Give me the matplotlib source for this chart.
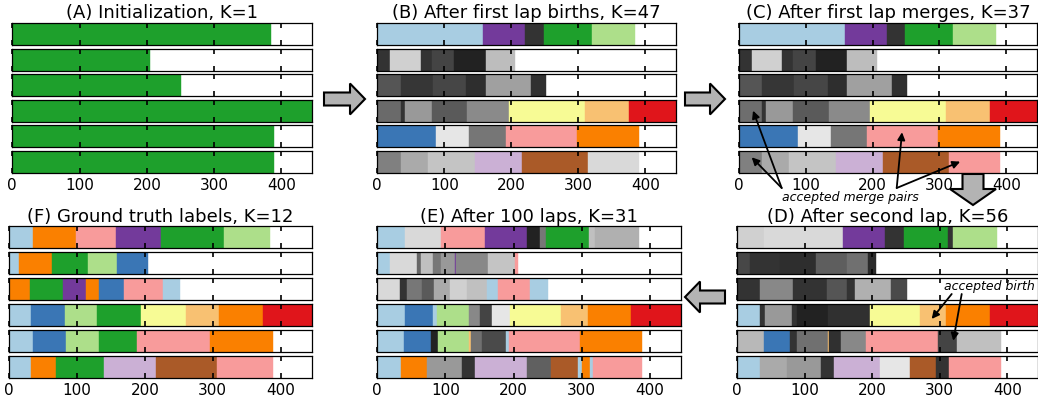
import matplotlib
matplotlib.use('Agg')
from matplotlib import pyplot as plt
from matplotlib.patches import FancyArrow
from matplotlib.text import Annotation

# colours (Paired-like)
lb = '#a8cde2'
blue = '#3a76b5'
lgreen = '#addf8a'
green = '#1ea02c'
pink = '#f89b9b'
red = '#e0151b'
lorange = '#f8c172'
orange = '#fa8000'
lpurple = '#cbb0d5'
purple = '#733a9b'
yellow = '#f7fb95'
brown = '#aa5a28'

# each row: list of (segment end, colour), segments start where the previous ends
panel_A = [
    [(384, green)],
    [(205, green)],
    [(251, green)],
    [(446, green)],
    [(389, green)],
    [(389, green)],
]

panel_B = [
    [(158, lb), (221, purple), (248, '#333333'), (320, green), (385, lgreen)],
    [(19, '#333333'), (65, '#d0d0d0'), (81, '#333333'), (115, '#444444'), (162, '#222222'), (206, '#bdbdbd')],
    [(35, '#555555'), (83, '#363636'), (133, '#464646'), (162, '#2e2e2e'), (229, '#a0a0a0'), (252, '#303030')],
    [(35, '#6a6a6a'), (41, '#333333'), (81, '#999999'), (134, '#5a5a5a'), (196, '#8a8a8a'), (310, yellow),
     (376, lorange), (446, red)],
    [(88, blue), (137, '#e6e6e6'), (192, '#767676'), (298, pink), (390, orange)],
    [(35, '#808080'), (75, '#aaaaaa'), (145, '#c4c4c4'), (216, lpurple), (314, brown), (390, '#d9d9d9')],
]

panel_C = [
    [(158, lb), (221, purple), (248, '#333333'), (320, green), (385, lgreen)],
    [(19, '#333333'), (65, '#d0d0d0'), (81, '#333333'), (115, '#444444'), (162, '#222222'), (206, '#bdbdbd')],
    [(35, '#555555'), (83, '#363636'), (133, '#464646'), (162, '#2e2e2e'), (229, '#a0a0a0'), (252, '#303030')],
    [(35, '#6e6e6e'), (41, '#333333'), (81, '#999999'), (134, '#5a5a5a'), (196, '#8a8a8a'), (310, yellow),
     (376, lorange), (446, red)],
    [(88, blue), (137, '#e6e6e6'), (192, '#767676'), (298, pink), (390, orange)],
    [(35, '#808080'), (75, '#aaaaaa'), (145, '#c4c4c4'), (216, lpurple), (314, brown), (391, pink)],
]

panel_D = [
    [(39, '#d0d0d0'), (157, '#d9d9d9'), (219, purple), (247, '#333333'), (312, green), (320, '#333333'),
     (385, lgreen)],
    [(19, '#474747'), (63, '#333333'), (116, '#2e2e2e'), (162, '#5e5e5e'), (194, '#707070'), (206, '#2a2a2a')],
    [(34, '#333333'), (83, '#888888'), (133, '#333333'), (162, '#555555'), (174, '#333333'), (228, '#b0b0b0'),
     (251, '#4a4a4a')],
    [(34, lb), (41, '#333333'), (81, '#999999'), (88, '#333333'), (134, '#222222'), (196, '#303030'),
     (270, yellow), (309, lorange), (375, orange), (446, red)],
    [(39, '#b8b8b8'), (78, blue), (88, '#333333'), (135, '#707070'), (136, lorange), (154, '#303030'),
     (191, '#888888'), (298, pink), (325, '#444444'), (390, '#c0c0c0')],
    [(34, lb), (74, '#aaaaaa'), (124, '#999999'), (144, '#333333'), (212, lpurple), (256, '#e6e6e6'),
     (295, brown), (313, '#333333'), (390, pink)],
]

panel_E = [
    [(40, lb), (93, '#d9d9d9'), (158, pink), (220, purple), (238, '#222222'), (248, '#777777'), (311, green),
     (320, '#c0c0c0'), (384, '#b0b0b0')],
    [(19, lb), (58, '#d9d9d9'), (64, '#666666'), (81, '#c0c0c0'), (93, '#777777'), (114, '#999999'),
     (116, purple), (162, '#888888'), (202, '#c4c4c4'), (206, pink)],
    [(34, '#d9d9d9'), (44, '#333333'), (66, '#777777'), (83, '#5a5a5a'), (107, '#aaaaaa'), (132, '#d0d0d0'),
     (161, '#c0c0c0'), (177, lb), (224, pink), (251, lb)],
    [(40, lb), (81, blue), (88, lb), (134, lgreen), (151, '#888888'), (168, '#444444'), (195, '#e6e6e6'),
     (269, yellow), (309, lorange), (372, orange), (446, red)],
    [(39, lb), (79, blue), (89, '#222222'), (135, lgreen), (137, lorange), (154, '#707070'), (189, '#4a4a4a'),
     (193, lb), (298, pink), (389, orange)],
    [(35, lb), (73, orange), (124, '#999999'), (144, '#333333'), (219, lpurple), (255, '#606060'),
     (295, brown), (300, lb), (312, orange), (317, lb), (389, pink)],
]

panel_F = [
    [(36, lb), (98, orange), (157, pink), (223, purple), (317, green), (384, lgreen)],
    [(15, lb), (64, orange), (116, green), (159, lgreen), (205, blue)],
    [(31, orange), (80, green), (113, purple), (132, orange), (169, blue), (226, pink), (251, lb)],
    [(33, lb), (83, blue), (130, lgreen), (195, green), (261, yellow), (309, lorange), (374, orange), (446, red)],
    [(35, lb), (84, blue), (132, lgreen), (188, green), (296, pink), (389, orange)],
    [(33, lb), (69, orange), (140, green), (216, lpurple), (306, brown), (389, pink)],
]

titles = {
    'A': '(A) Initialization, K=1',
    'B': '(B) After first lap births, K=47',
    'C': '(C) After first lap merges, K=37',
    'D': '(D) After second lap, K=56',
    'E': '(E) After 100 laps, K=31',
    'F': '(F) Ground truth labels, K=12',
}
ticks = [0, 100, 200, 300, 400]
xmax = 446

W, H = 1038, 402
fig = plt.figure(figsize=(W / 100, H / 100), dpi=100)

# layout in pixels: left, top, width, row pitch
layout = {
    'A': (12.3, 24.3, 300, 25.5),
    'B': (377.3, 24.3, 299, 25.5),
    'C': (739, 24.3, 298, 25.5),
    'F': (9, 227.3, 303, 25.9),
    'E': (377.3, 227.3, 304, 25.9),
    'D': (737.3, 227.3, 301, 25.9),
}
row_h = 21.7
data = {'A': panel_A, 'B': panel_B, 'C': panel_C, 'D': panel_D, 'E': panel_E, 'F': panel_F}

axes = {}
for name, rows in data.items():
    left, top, width, pitch = layout[name]
    axes[name] = []
    for i, segs in enumerate(rows):
        t = top + i * pitch
        ax = fig.add_axes([left / W, 1 - (t + row_h) / H, width / W, row_h / H])
        start = 0
        for end, col in segs:
            ax.barh(0, end - start, left=start, height=1, color=col, edgecolor=col, linewidth=0.3)
            start = end
        ax.set_xlim(0, xmax)
        ax.set_ylim(-0.5, 0.5)
        ax.set_yticks([])
        ax.set_xticks(ticks)
        ax.tick_params(axis='x', direction='in', top=True, bottom=True, length=3.5, width=1.2,
                       labelsize=11, pad=3.5, labelbottom=(i == len(rows) - 1))
        for sp in ax.spines.values():
            sp.set_linewidth(0.9)
        axes[name].append(ax)
    title_y = 13 if top < 100 else 217.5
    fig.text((left + width / 2) / W, 1 - title_y / H, titles[name], ha='center', va='center', fontsize=13)

# block arrows between panels (inches from bottom left)
arrow_kw = dict(length_includes_head=True, fc='#b3b3b3', ec='black', lw=1.5,
                transform=fig.dpi_scale_trans, zorder=5)
fig.add_artist(FancyArrow(3.24, 3.02, 0.41, 0, width=0.13, head_width=0.31, head_length=0.15, **arrow_kw))
fig.add_artist(FancyArrow(6.85, 3.02, 0.40, 0, width=0.13, head_width=0.31, head_length=0.15, **arrow_kw))
fig.add_artist(FancyArrow(9.73, 2.27, 0, -0.31, width=0.21, head_width=0.46, head_length=0.16, **arrow_kw))
fig.add_artist(FancyArrow(7.25, 1.04, -0.40, 0, width=0.13, head_width=0.31, head_length=0.15, **arrow_kw))

# annotations
fig.text(850 / W, 1 - 198 / H, 'accepted merge pairs', ha='center', va='center', fontsize=9, style='italic')
fig.text(989 / W, 1 - 286.7 / H, 'accepted birth', ha='center', va='center', fontsize=9, style='italic')

arrowprops = dict(arrowstyle='-|>', color='black', lw=1.3, mutation_scale=11, shrinkA=0, shrinkB=0)
pointers = [
    ((781.7, 189), axes['C'][3], (21, 0.0)),
    ((781.7, 189), axes['C'][5], (19, 0.2)),
    ((896.7, 189), axes['C'][4], (244, 0.18)),
    ((896.7, 189), axes['C'][5], (331, 0.0)),
    ((951.7, 295), axes['D'][3], (288, -0.19)),
    ((961.7, 295), axes['D'][4], (320, 0.0)),
]
for (px, py), ax, xy in pointers:
    ann = Annotation('', xy=xy, xycoords=ax.transData, xytext=(px / W, 1 - py / H),
                     textcoords='figure fraction', arrowprops=arrowprops, zorder=6)
    fig.add_artist(ann)

fig.savefig('out.png', dpi=100)
